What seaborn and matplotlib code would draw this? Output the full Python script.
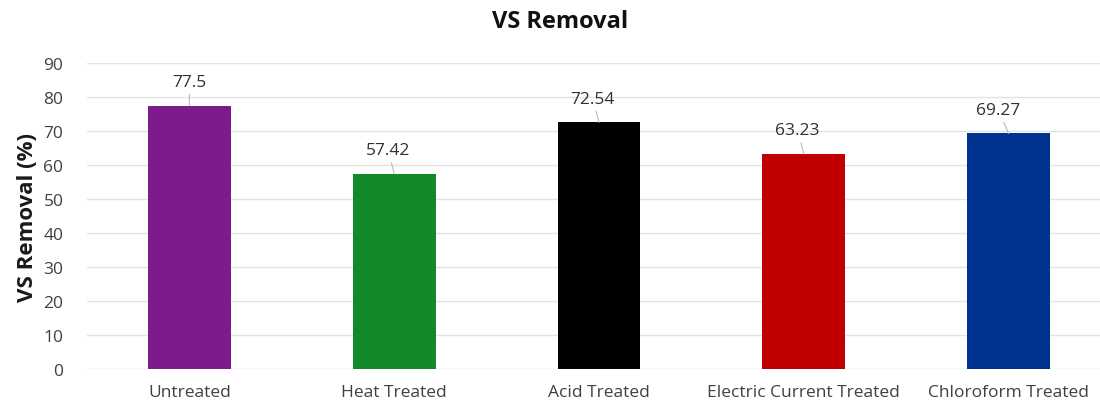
import matplotlib
matplotlib.use("Agg")
import matplotlib.pyplot as plt
import seaborn as sns
import pandas as pd

categories = ["Untreated", "Heat Treated", "Acid Treated", "Electric Current Treated", "Chloroform Treated"]
vs_removal = [77.5, 57.42, 72.54, 63.23, 69.27]
value_labels = ["77.5", "57.42", "72.54", "63.23", "69.27"]
bar_colors = ["#7D1A8C", "#128A2A", "#000000", "#C00000", "#003292"]
y_ticks = [0, 10, 20, 30, 40, 50, 60, 70, 80, 90]

sns.set_theme(style="white")
plt.rcParams["font.family"] = ["Open Sans", "DejaVu Sans"]

df = pd.DataFrame({"category": categories, "value": vs_removal})

fig = plt.figure(figsize=(11, 4.06), dpi=100)
W, H = 1100, 406
x0, x1 = 87, 1111
y0, y1 = 370, 64
ax = fig.add_axes([x0 / W, (H - y0) / H, (x1 - x0) / W, (y0 - y1) / H])

sns.barplot(data=df, x="category", y="value", hue="category",
            palette=bar_colors, width=0.405, legend=False, ax=ax,
            saturation=1, edgecolor="none")

ax.set_ylim(0, 90)
ax.set_xlim(-0.5, len(categories) - 0.5)
ax.set_yticks(y_ticks)
ax.set_yticklabels([str(t) for t in y_ticks], fontsize=12.5, color="#404040")
ax.tick_params(axis="x", labelsize=12.5, labelcolor="#404040", pad=11, length=0)
ax.tick_params(axis="y", length=0, pad=17)
ax.yaxis.grid(True, color="#E3E3E3", linewidth=1)
ax.set_axisbelow(True)
for s in ax.spines.values():
    s.set_visible(False)

ax.set_xlabel("")
ax.set_ylabel("VS Removal (%)", fontsize=16, fontweight="bold", color="#1a1a1a", labelpad=4)

# Value labels with short leader lines to the bar tops
offsets = [0.0, -0.03, -0.03, -0.03, -0.05]
for i, (v, lab) in enumerate(zip(vs_removal, value_labels)):
    ax.annotate(lab, xy=(i, v), xytext=(i + offsets[i], v + 7.0),
                ha="center", va="center", fontsize=12.5, color="#303030",
                arrowprops=dict(arrowstyle="-", color="#BBBBBB", lw=0.8,
                                shrinkA=1, shrinkB=0))

fig.text(560 / W, 1 - 22 / H, "VS Removal", ha="center", va="center",
         fontsize=17, fontweight="bold", color="#111111")

fig.savefig("out.png", dpi=100, facecolor="white")
